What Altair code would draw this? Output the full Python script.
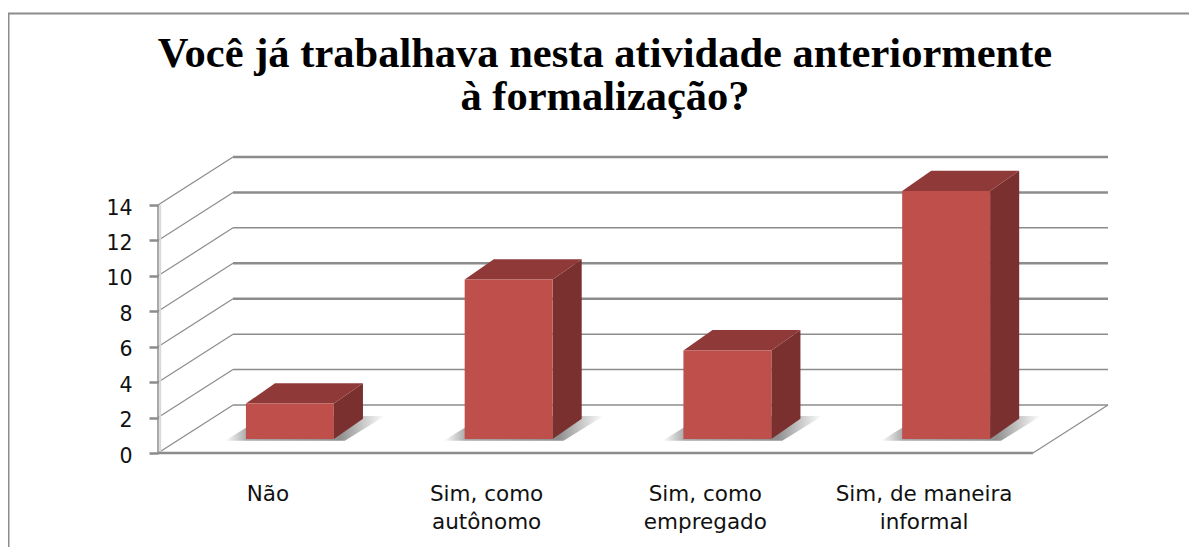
import json
import altair as alt
import pandas as pd

title_lines = ["Você já trabalhava nesta atividade anteriormente", "à formalização?"]
categories = ["Não", "Sim, como autônomo", "Sim, como empregado", "Sim, de maneira informal"]
label_lines = [["Não"], ["Sim, como", "autônomo"], ["Sim, como", "empregado"], ["Sim, de maneira", "informal"]]
values = [2, 9, 5, 14]
y_ticks = [0, 2, 4, 6, 8, 10, 12, 14]
grid_widths = [1.5, 1.5, 1.5, 2.5, 2.5, 1.5, 2.5, 2.5]

# geometry of the pseudo-3D box, in data units
WALL_DX, WALL_DY = 0.343, 2.71
BAR_L, BAR_W = 0.402, 0.402
BAR_BASE = 0.79
TOP_DX, TOP_DY = 0.133, 1.15
X_MAX, Y_MAX = 4 + WALL_DX, 14 + WALL_DY
GRID = "#8C8C8C"

xs = alt.Scale(domain=[0, X_MAX], nice=False, zero=False)
ys = alt.Scale(domain=[0, Y_MAX], nice=False, zero=False)
X = lambda **k: alt.X("x:Q", scale=xs, **k)
Y = lambda **k: alt.Y("y:Q", scale=ys, **k)

grid_rows, shadow_rows, top_rows, side_rows, front_rows = [], [], [], [], []
for v in y_ticks:
    grid_rows += [
        {"k": v, "x": 0, "y": v},
        {"k": v, "x": WALL_DX, "y": v + WALL_DY},
    ]
back_rows = [{"k": v, "x": a, "y": v + WALL_DY, "w": w}
             for v, w in zip(y_ticks, grid_widths) for a in (WALL_DX, X_MAX)]
floor_edge = [{"k": "e", "x": 4, "y": 0}, {"k": "e", "x": X_MAX, "y": WALL_DY}]
front_axis = [{"k": "f", "x": 0, "y": 0}, {"k": "f", "x": 4, "y": 0}]
v_axis = [{"k": "v", "x": 0, "y": 0}, {"k": "v", "x": 0, "y": max(y_ticks)}]
v_light = [{"k": "l", "x": 0.01, "y": 0}, {"k": "l", "x": 0.01, "y": max(y_ticks)}]

for i, (c, v) in enumerate(zip(categories, values)):
    x0 = i + BAR_L
    x1 = x0 + BAR_W
    base, top = BAR_BASE, BAR_BASE + v
    front_rows += [{"c": c, "x": x0, "y": base, "y2": top}, {"c": c, "x": x1, "y": base, "y2": top}]
    top_rows += [
        {"c": c, "x": x0, "y": top, "y2": top},
        {"c": c, "x": x0 + TOP_DX, "y": top, "y2": top + TOP_DY},
        {"c": c, "x": x1, "y": top, "y2": top + TOP_DY},
        {"c": c, "x": x1 + TOP_DX, "y": top + TOP_DY, "y2": top + TOP_DY},
    ]
    side_rows += [
        {"c": c, "x": x1, "y": base, "y2": top},
        {"c": c, "x": x1 + TOP_DX, "y": base + TOP_DY, "y2": top + TOP_DY},
    ]
    sl, sr = x0 - 0.096, x1 + 0.05
    sdx, sb, st = 0.183, base - 0.1, base + 1.3
    shadow_rows += [
        {"c": c, "x": sl, "y": sb, "y2": sb},
        {"c": c, "x": sl + sdx, "y": sb, "y2": st},
        {"c": c, "x": sr, "y": sb, "y2": st},
        {"c": c, "x": sr + sdx, "y": st, "y2": st},
    ]

# axes ---------------------------------------------------------------------
tick_pos = [i + 0.5 for i in range(4)]
label_map = json.dumps({str(p): l for p, l in zip(tick_pos, label_lines)}, ensure_ascii=False)
x_axis = alt.Axis(
    values=tick_pos, title=None, grid=False, ticks=False, domain=False,
    labelExpr=f"({label_map})[toString(datum.value)]",
    labelFont="DejaVu Sans", labelFontSize=21.5, labelColor="#111111",
    labelPadding=30, labelLineHeight=28, labelAngle=0, labelOverlap=False, labelBaseline="top",
)
y_axis = alt.Axis(
    values=y_ticks, title=None, grid=False, format="d", domain=False,
    tickColor=GRID, tickWidth=2.5, tickSize=9,
    labelFont="DejaVu Sans", labelFontSize=20.5, labelColor="#111111", labelPadding=17,
    labelOverlap=False, labelOffset=3,
)

axes = alt.Chart(pd.DataFrame(grid_rows)).mark_line(color=GRID, strokeWidth=1.2).encode(
    x=X(axis=x_axis), y=Y(axis=y_axis), detail="k:N"
)
back = alt.Chart(pd.DataFrame(back_rows)).mark_line(color=GRID).encode(
    x=X(), y=Y(), detail="k:N", strokeWidth=alt.StrokeWidth("w:Q", scale=None)
)


def line(rows, color=GRID, width=1.2):
    return alt.Chart(pd.DataFrame(rows)).mark_line(color=color, strokeWidth=width).encode(
        x=X(), y=Y(), detail="k:N")


edge = line(floor_edge)
front_line = line(front_axis, width=2.5)
v_light_line = line(v_light, color="#D9D9D9", width=2)
v_line = line(v_axis, width=1.5)


def faces(rows, **mark):
    return alt.Chart(pd.DataFrame(rows)).mark_area(**mark).encode(
        x=X(), y=Y(), y2="y2:Q", detail="c:N")


shadow = faces(shadow_rows, color=alt.LinearGradient(
    gradient="linear", x1=0, x2=1, y1=0, y2=0,
    stops=[alt.GradientStop(color="#ffffff", offset=0),
           alt.GradientStop(color="#a8a8a8", offset=0.14),
           alt.GradientStop(color="#909090", offset=0.72),
           alt.GradientStop(color="#ffffff", offset=1)]))
side = faces(side_rows, color="#7A302E")
topf = faces(top_rows, color="#8F3A38")
front = faces(front_rows, color="#BE4F4A")

# outer frame of the picture
frame_src = pd.DataFrame({"a": [0]})
frame_top = alt.Chart(frame_src).mark_rule(color="#8C8C8C", strokeWidth=2).encode(
    x=alt.value(-150), x2=alt.value(1031), y=alt.value(-143.5))
frame_left = alt.Chart(frame_src).mark_rule(color="#8C8C8C", strokeWidth=3).encode(
    x=alt.value(-150), y=alt.value(-143.5), y2=alt.value(390))

chart = alt.layer(axes, back, v_light_line, v_line, edge, front_line, shadow, side, topf, front,
                  frame_top, frame_left).properties(
    width=950, height=296,
    padding={"left": 150, "top": 149, "right": 81, "bottom": 94},
    autosize=alt.AutoSizeParams(type="none"),
    background="white",
    title=alt.Title(
        title_lines, anchor="middle", frame="group", font="Liberation Serif", fontWeight="bold", fontSize=42.5,
        color="#000000", lineHeight=43, offset=-106, dx=-28,
    ),
).configure_view(stroke=None)

chart.save("out.html", embed_options={"renderer": "svg", "actions": False})
